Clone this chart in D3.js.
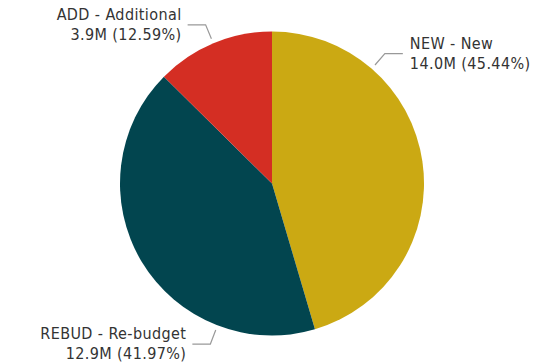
<!DOCTYPE html>
<html>
<head>
<meta charset="utf-8">
<script src="https://cdn.jsdelivr.net/npm/d3@7"></script>
<style>
  body { margin: 0; background: #fff; }
  svg { display: block; }
  .label text { font-family: "DejaVu Sans Condensed", "Liberation Sans Narrow", sans-serif; font-size: 16px; fill: #333; letter-spacing: 0.4px; }
  .leader { fill: none; stroke: #999; stroke-width: 1.2; }
</style>
</head>
<body>
<svg id="chart" width="545" height="362"></svg>
<script>
// data
const codes = ["NEW", "REBUD", "ADD"];
const names = ["New", "Re-budget", "Additional"];
const amounts = [14.0, 12.9, 3.9];           // millions
const percents = [45.44, 41.97, 12.59];
const colors = ["#CBA913", "#02454F", "#D42E23"];

// where the leader leaves each slice (degrees clockwise from top), Power BI style
const leaderAngles = [41, 201, 337.3];

const width = 545, height = 362;
const cx = 272, cy = 183.5, radius = 152;

const slices = codes.map((c, i) => ({code: c, name: names[i], value: percents[i], amount: amounts[i], color: colors[i], angle: leaderAngles[i]}));

const pie = d3.pie().sort(null).value(d => d.value);
const arc = d3.arc().innerRadius(0).outerRadius(radius);

const svg = d3.select("#chart");
const g = svg.append("g").attr("transform", "translate(" + cx + "," + cy + ")");

g.selectAll("path.slice")
  .data(pie(slices))
  .enter().append("path")
    .attr("class", "slice")
    .attr("d", arc)
    .attr("fill", d => d.data.color);

function polar(r, deg) {
  const a = deg * Math.PI / 180;
  return [r * Math.sin(a), -r * Math.cos(a)];
}

const labels = g.selectAll("g.label")
  .data(pie(slices))
  .enter().append("g")
    .attr("class", "label");

labels.each(function(d) {
  const sel = d3.select(this);
  const deg = d.data.angle;
  const p0 = polar(radius + 5, deg);
  const p1 = polar(radius + 20, deg);
  const right = Math.sin(deg * Math.PI / 180) > 0;
  const p2 = [p1[0] + (right ? 18 : -18), p1[1]];

  sel.append("path")
    .attr("class", "leader")
    .attr("d", d3.line()([p0, p1, p2]));

  const tx = p2[0] + (right ? 7 : -6);
  const txt = sel.append("text")
    .attr("text-anchor", right ? "start" : "end");
  txt.append("tspan")
    .attr("x", tx).attr("y", p1[1] - 5)
    .text(d.data.code + " - " + d.data.name);
  txt.append("tspan")
    .attr("x", tx).attr("y", p1[1] + 15)
    .text(d.data.amount.toFixed(1) + "M (" + d.data.value.toFixed(2) + "%)");
});
</script>
</body>
</html>
